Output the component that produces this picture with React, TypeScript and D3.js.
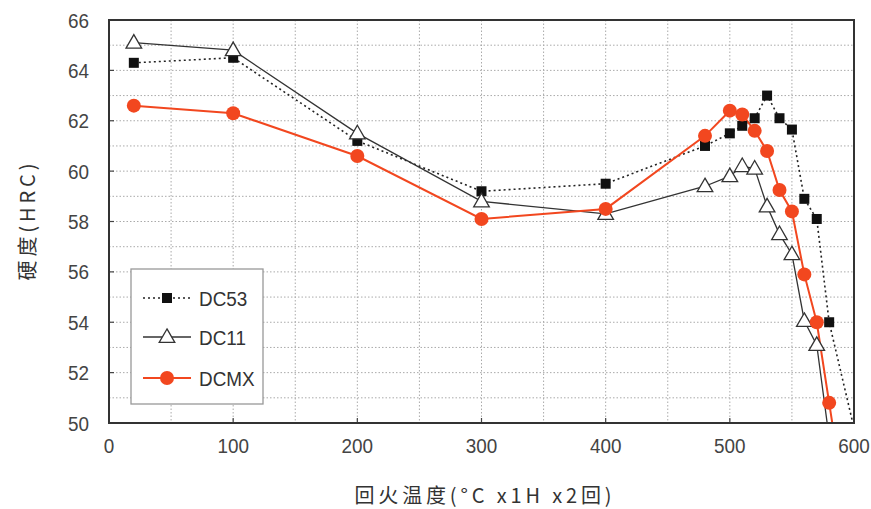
import React from "react";
import * as d3 from "d3";

const dc53T = [20, 100, 200, 300, 400, 480, 500, 510, 520, 530, 540, 550, 560, 570, 580, 600];
const dc53V = [64.3, 64.5, 61.2, 59.2, 59.5, 61.0, 61.5, 61.8, 62.1, 63.0, 62.1, 61.65, 58.9, 58.1, 54.0, 49.8];
const dc11T = [20, 100, 200, 300, 400, 480, 500, 510, 520, 530, 540, 550, 560, 570, 580];
const dc11V = [65.1, 64.8, 61.5, 58.8, 58.3, 59.4, 59.8, 60.2, 60.1, 58.6, 57.5, 56.7, 54.05, 53.1, 49.4];
const dcmxT = [20, 100, 200, 300, 400, 480, 500, 510, 520, 530, 540, 550, 560, 570, 580, 590];
const dcmxV = [62.6, 62.3, 60.6, 58.1, 58.5, 61.4, 62.4, 62.25, 61.6, 60.8, 59.25, 58.4, 55.9, 54.0, 50.8, 47.6];
const xTicks = [0, 100, 200, 300, 400, 500, 600];
const yTicks = [50, 52, 54, 56, 58, 60, 62, 64, 66];
const seriesNames = ["DC53", "DC11", "DCMX"];

const RED = "#f2471f";
const FONT = "'Liberation Sans', Arial, sans-serif";
const CJK = "'Noto Sans CJK SC', sans-serif";

export default function App() {
  const W = 871, H = 509;
  const L = 109, R = 854, T = 20, B = 423;
  const x = d3.scaleLinear().domain([0, 600]).range([L, R]);
  const y = d3.scaleLinear().domain([50, 66]).range([B, T]);
  const line = d3.line<[number, number]>().x(d => x(d[0])).y(d => y(d[1]));
  const z = (ts: number[], vs: number[]) => ts.map((t, i) => [t, vs[i]] as [number, number]);
  const d53 = z(dc53T, dc53V), d11 = z(dc11T, dc11V), dmx = z(dcmxT, dcmxV);
  const xGrid = d3.range(50, 600, 50);
  const yGrid = d3.range(51, 66, 1);
  const tri = (cx: number, cy: number, s: number) =>
    `M${cx},${cy - s * 0.62}L${cx + s * 0.6},${cy + s * 0.42}L${cx - s * 0.6},${cy + s * 0.42}Z`;

  const legendY = [298, 337, 378];
  const SX = 0.9;
  return (
    <svg width={W} height={H} style={{ position: "absolute", left: 0, top: 0, background: "#fff" }}>
      <defs>
        <clipPath id="plot"><rect x={L} y={T} width={R - L} height={B - T} /></clipPath>
      </defs>
      <rect x={0} y={0} width={W} height={H} fill="#fff" />
      {xGrid.map(v => (
        <line key={"gx" + v} x1={x(v)} x2={x(v)} y1={T} y2={B} stroke="#aaa" strokeWidth={1} strokeDasharray="1.5,2" />
      ))}
      {yGrid.map(v => (
        <line key={"gy" + v} x1={L} x2={R} y1={y(v)} y2={y(v)} stroke="#aaa" strokeWidth={1} strokeDasharray="1.5,2" />
      ))}
      {xTicks.map(v => (
        <line key={"tx" + v} x1={x(v)} x2={x(v)} y1={B} y2={B - 5} stroke="#444" strokeWidth={1.2} />
      ))}
      {yTicks.map(v => (
        <line key={"ty" + v} x1={L} x2={L + 5} y1={y(v)} y2={y(v)} stroke="#444" strokeWidth={1.2} />
      ))}
      <g clipPath="url(#plot)">
        <path d={line(d53) || ""} fill="none" stroke="#222" strokeWidth={1.6} strokeDasharray="2,3" />
        <path d={line(d11) || ""} fill="none" stroke="#333" strokeWidth={1.3} />
        <path d={line(dmx) || ""} fill="none" stroke={RED} strokeWidth={2} />
        {d53.map((d, i) => (
          <rect key={"s" + i} x={x(d[0]) - 5} y={y(d[1]) - 5} width={10} height={10} fill="#111" />
        ))}
        {d11.map((d, i) => (
          <path key={"t" + i} d={tri(x(d[0]), y(d[1]), 13)} fill="#fff" stroke="#333" strokeWidth={1.3} />
        ))}
        {dmx.map((d, i) => (
          <circle key={"c" + i} cx={x(d[0])} cy={y(d[1])} r={7} fill={RED} />
        ))}
      </g>
      <rect x={L} y={T} width={R - L} height={B - T} fill="none" stroke="#333" strokeWidth={2} />
      {yTicks.map(v => (
        <g key={"ly" + v} transform={`translate(89,${y(v)}) scale(${SX},1)`}>
          <text x={0} y={0} dy="0.36em" textAnchor="end" fontFamily={FONT} fontSize={21} fill="#444">{v}</text>
        </g>
      ))}
      {xTicks.map(v => (
        <g key={"lx" + v} transform={`translate(${x(v)},453) scale(${SX},1)`}>
          <text x={0} y={0} textAnchor="middle" fontFamily={FONT} fontSize={21} fill="#444">{v}</text>
        </g>
      ))}
      <text transform="translate(35,222) rotate(-90)" textAnchor="middle" fontFamily={CJK} fontSize={20} fill="#333" textLength={117} lengthAdjust="spacing">硬度(HRC)</text>
      <text x={483} y={503} textAnchor="middle" fontFamily={CJK} fontSize={20} fill="#333" textLength={257} lengthAdjust="spacing">回火温度(°C x1H x2回)</text>
      <rect x={131} y={269} width={132} height={135} fill="#fff" stroke="#999" strokeWidth={1.3} />
      <line x1={143} x2={191} y1={legendY[0]} y2={legendY[0]} stroke="#222" strokeWidth={1.6} strokeDasharray="2,3" />
      <rect x={162} y={legendY[0] - 5} width={10} height={10} fill="#111" />
      <line x1={143} x2={191} y1={legendY[1]} y2={legendY[1]} stroke="#333" strokeWidth={1.3} />
      <path d={tri(167, legendY[1], 13)} fill="#fff" stroke="#333" strokeWidth={1.3} />
      <line x1={143} x2={191} y1={legendY[2]} y2={legendY[2]} stroke={RED} strokeWidth={2} />
      <circle cx={167} cy={legendY[2]} r={7} fill={RED} />
      {seriesNames.map((n, i) => (
        <g key={n} transform={`translate(199,${legendY[i]}) scale(${SX},1)`}>
          <text x={0} y={0} dy="0.36em" fontFamily={FONT} fontSize={21} fill="#333">{n}</text>
        </g>
      ))}
    </svg>
  );
}
